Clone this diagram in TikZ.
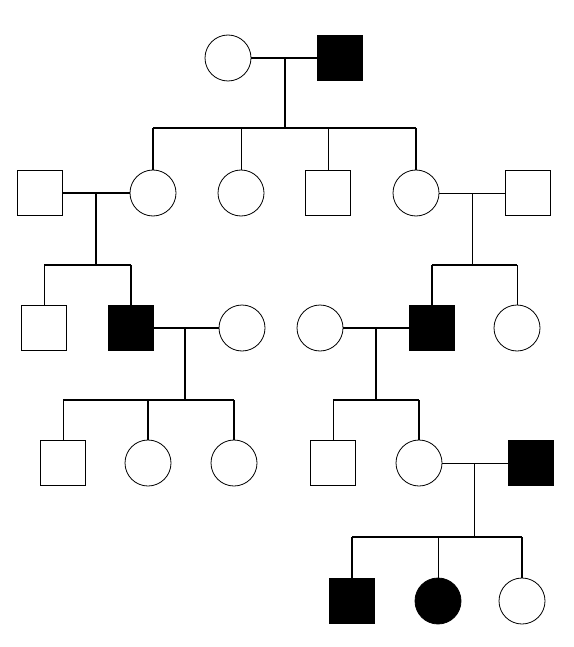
\documentclass[tikz,border=0pt]{standalone}
\usepackage{tikz}
\usetikzlibrary{positioning,calc}

\begin{document}
\begin{tikzpicture}[x=1pt, y=-1pt,
    female/.style={circle, draw, line width=0.8pt, minimum size=46pt, inner sep=0pt},
    male/.style={rectangle, draw, line width=0.8pt, minimum size=45pt, inner sep=0pt},
    affected/.style={fill=black},
    tie/.style={line width=2pt},
    thintie/.style={line width=1pt}]
            \useasboundingbox (0,0) rectangle (573,647);

            % Generation I
            \node[female] (gA) at (228,58) {};
            \node[male, affected] (gB) at (340,58) {};

            % Generation II
            \node[male] (pA) at (40,193) {};
            \node[female] (pB) at (153,193) {};
            \node[female] (pC) at (241,193) {};
            \node[male] (pD) at (328,193) {};
            \node[female] (pE) at (416,193) {};
            \node[male] (pF) at (528,193) {};

            % Generation III
            \node[male] (cA) at (44,328) {};
            \node[male, affected] (cB) at (131,328) {};
            \node[female] (cC) at (242,328) {};
            \node[female] (cD) at (320,328) {};
            \node[male, affected] (cE) at (432,328) {};
            \node[female] (cF) at (517,328) {};

            % Generation IV
            \node[male] (dA) at (63,463) {};
            \node[female] (dB) at (148,463) {};
            \node[female] (dC) at (234,463) {};
            \node[male] (dD) at (333,463) {};
            \node[female] (dE) at (419,463) {};
            \node[male, affected] (dF) at (531,463) {};

            % Generation V
            \node[male, affected] (eA) at (352,601) {};
            \node[female, affected] (eB) at (438,601) {};
            \node[female] (eC) at (522,601) {};

            % Marriage lines and drops
            \coordinate (mA) at (285,58);
            \coordinate (sA) at (285,128);
            \draw[tie] (gA) -- (gB);
            \draw[tie] (mA) -- (sA);
            \draw[tie] (pB.north |- sA) -- (pE.north |- sA);
            \draw[tie] (pB.north |- sA) -- (pB);
            \draw[thintie] (pC.north |- sA) -- (pC);
            \draw[thintie] (pD.north |- sA) -- (pD);
            \draw[tie] (pE.north |- sA) -- (pE);

            \coordinate (mB) at (96,193);
            \coordinate (sB) at (96,265);
            \draw[tie] (pA) -- (pB);
            \draw[tie] (mB) -- (sB);
            \draw[tie] (cA.north |- sB) -- (cB.north |- sB);
            \draw[thintie] (cA.north |- sB) -- (cA);
            \draw[tie] (cB.north |- sB) -- (cB);

            \coordinate (mC) at (472,193);
            \coordinate (sC) at (472,265);
            \draw[thintie] (pE) -- (pF);
            \draw[thintie] (mC) -- (sC);
            \draw[tie] (cE.north |- sC) -- (cF.north |- sC);
            \draw[tie] (cE.north |- sC) -- (cE);
            \draw[thintie] (cF.north |- sC) -- (cF);

            \coordinate (mD) at (185,328);
            \coordinate (sD) at (185,400);
            \draw[tie] (cB) -- (cC);
            \draw[tie] (mD) -- (sD);
            \draw[tie] (dA.north |- sD) -- (dC.north |- sD);
            \draw[thintie] (dA.north |- sD) -- (dA);
            \draw[tie] (dB.north |- sD) -- (dB);
            \draw[tie] (dC.north |- sD) -- (dC);

            \coordinate (mE) at (376,328);
            \coordinate (sE) at (376,400);
            \draw[tie] (cD) -- (cE);
            \draw[tie] (mE) -- (sE);
            \draw[tie] (dD.north |- sE) -- (dE.north |- sE);
            \draw[thintie] (dD.north |- sE) -- (dD);
            \draw[tie] (dE.north |- sE) -- (dE);

            \coordinate (mF) at (474,463);
            \coordinate (sF) at (474,537);
            \draw[thintie] (dE) -- (dF);
            \draw[thintie] (mF) -- (sF);
            \draw[tie] (eA.north |- sF) -- (eC.north |- sF);
            \draw[tie] (eA.north |- sF) -- (eA);
            \draw[thintie] (eB.north |- sF) -- (eB);
            \draw[tie] (eC.north |- sF) -- (eC);
\end{tikzpicture}
\end{document}
